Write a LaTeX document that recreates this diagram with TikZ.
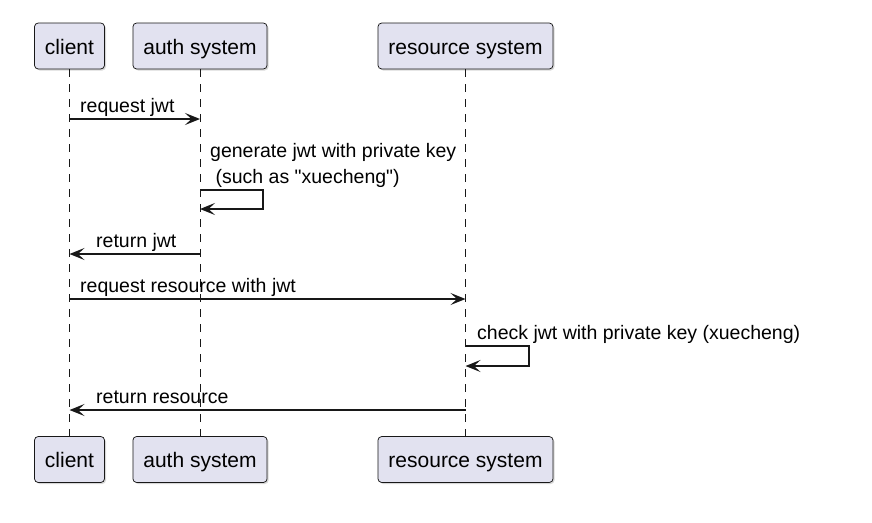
\documentclass[tikz,border=0pt]{standalone}
\usepackage{fontspec}
\setmainfont{Liberation Sans}
\newfontfamily\umlfont{Liberation Sans}
\usetikzlibrary{arrows.meta,shadows}
\definecolor{umlfill}{HTML}{E2E2F0}
\definecolor{umlline}{HTML}{181818}

\begin{document}
\begin{tikzpicture}[
  x=1pt,y=-1pt,
  >={Stealth[length=15pt,width=12pt,inset=6.5pt]},
  part/.style={draw=umlline,line width=0.75pt,fill=umlfill,rounded corners=3.75pt,
    minimum height=46pt,inner xsep=10.5pt,inner ysep=0pt,text height=16pt,text depth=0pt,
    font=\umlfont\fontsize{21}{25}\selectfont,
    drop shadow={shadow xshift=1.5pt,shadow yshift=-1.5pt,fill=black!30,opacity=.5}},
  life/.style={draw=umlline,line width=0.75pt,dash pattern=on 7.5pt off 7.5pt},
  msg/.style={->,draw=umlline,line width=1.5pt},
  lbl/.style={anchor=base west,inner sep=0pt,font=\umlfont\fontsize{19.5}{24}\selectfont},
]
\useasboundingbox (0,0) rectangle (872,522);

% participants, top and bottom
\node[part] (cltop) at (69.5,46) {client};
\node[part] (authtop) at (200,46) {auth system};
\node[part] (restop) at (465.5,46) {resource system};
\node[part] (clbot) at (69.5,459.5) {client};
\node[part] (authbot) at (200,459.5) {auth system};
\node[part] (resbot) at (465.5,459.5) {resource system};

% lifelines
\draw[life] (cltop) -- (clbot);
\draw[life] (authtop) -- (authbot);
\draw[life] (restop) -- (resbot);

% message rows
\coordinate (r1) at (0,119);
\coordinate (r2) at (0,190);
\coordinate (r3) at (0,209);
\coordinate (r4) at (0,254);
\coordinate (r5) at (0,299);
\coordinate (r6) at (0,346);
\coordinate (r7) at (0,366);
\coordinate (r8) at (0,410);

\draw[msg] (cltop |- r1) -- (authtop |- r1);
\node[lbl] (reqjwt) at (80,112) {request jwt};

\draw[msg] (authtop |- r2) -- ++(63,0) |- (authtop |- r3);
\node[lbl] (gen1) at (210,157) {generate jwt with private key};
\node[lbl] (gen2) at (210,183) {\ (such as "xuecheng")};

\draw[msg] (authtop |- r4) -- (cltop |- r4);
\node[lbl] (retjwt) at (96,247) {return jwt};

\draw[msg] (cltop |- r5) -- (restop |- r5);
\node[lbl] (reqres) at (80,292) {request resource with jwt};

\draw[msg] (restop |- r6) -- ++(63.5,0) |- (restop |- r7);
\node[lbl] (check) at (477,339) {check jwt with private key (xuecheng)};

\draw[msg] (restop |- r8) -- (cltop |- r8);
\node[lbl] (retres) at (96,403) {return resource};
\end{tikzpicture}
\end{document}
